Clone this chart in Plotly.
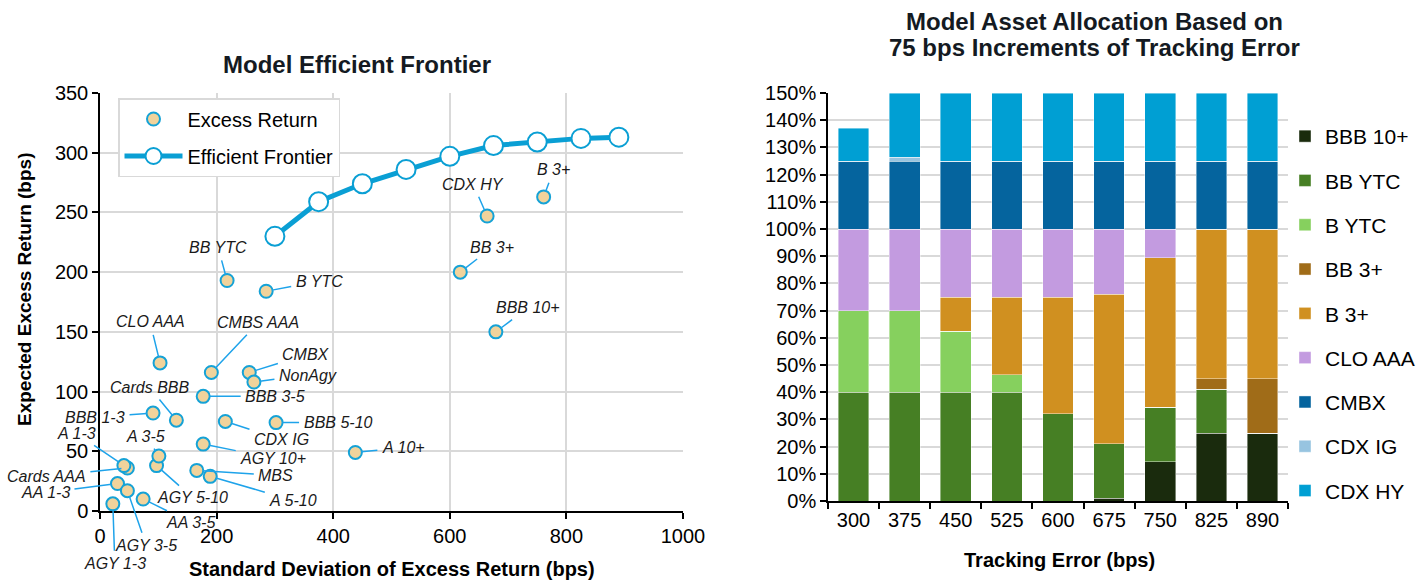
import plotly.graph_objects as go

# ---------------- Data: left chart (scatter + efficient frontier) ----------------
asset_names = ["AGY 1-3", "AA 1-3", "AGY 3-5", "Cards AAA", "A 1-3", "AA 3-5", "AGY 5-10",
               "A 3-5", "BBB 1-3", "Cards BBB", "CLO AAA", "MBS", "A 5-10", "AGY 10+",
               "BBB 3-5", "CMBS AAA", "CDX IG", "CMBX", "NonAgy", "BBB 5-10", "A 10+",
               "BB YTC", "B YTC", "BB 3+", "CDX HY", "B 3+", "BBB 10+"]
std_dev = [22, 30, 47, 47, 41, 74, 97, 101, 91, 131, 103, 166, 189, 177,
           177, 191, 215, 256, 264, 302, 438, 218, 285, 618, 664, 761, 679]
excess_ret = [6, 23, 17, 36, 38, 10, 38, 46, 82, 76, 124, 34, 29, 56,
              96, 116, 75, 116, 108, 74, 49, 193, 184, 200, 247, 263, 150]

frontier_te = [300, 375, 450, 525, 600, 675, 750, 825, 890]
frontier_ret = [230, 259, 274, 286, 297, 306, 309, 312, 313]

# ---------------- Data: right chart (stacked allocation, fractions) ----------------
te_categories = ["300", "375", "450", "525", "600", "675", "750", "825", "890"]
bbb_10 = [0, 0, 0, 0, 0, 0.01, 0.145, 0.25, 0.25]
bb_ytc = [0.40, 0.40, 0.40, 0.40, 0.32, 0.20, 0.20, 0.16, 0]
b_ytc = [0.30, 0.30, 0.225, 0.065, 0, 0, 0, 0, 0]
bb_3 = [0, 0, 0, 0, 0, 0, 0, 0.04, 0.20]
b_3 = [0, 0, 0.125, 0.285, 0.43, 0.55, 0.55, 0.55, 0.55]
clo_aaa = [0.30, 0.30, 0.25, 0.25, 0.25, 0.24, 0.105, 0, 0]
cmbx = [0.25, 0.25, 0.25, 0.25, 0.25, 0.25, 0.25, 0.25, 0.25]
cdx_ig = [0, 0.013, 0, 0, 0, 0, 0, 0, 0]
cdx_hy = [0.12, 0.237, 0.25, 0.25, 0.25, 0.25, 0.25, 0.25, 0.25]

alloc_series = [("BBB 10+", bbb_10, "#1a2b0d"),
                ("BB YTC", bb_ytc, "#467f24"),
                ("B YTC", b_ytc, "#86d05e"),
                ("BB 3+", bb_3, "#a06c18"),
                ("B 3+", b_3, "#d09020"),
                ("CLO AAA", clo_aaa, "#c39be0"),
                ("CMBX", cmbx, "#05649e"),
                ("CDX IG", cdx_ig, "#97c4e0"),
                ("CDX HY", cdx_hy, "#009fd3")]

# label offsets (pixels) for the scatter callouts
label_offsets = {
    "AGY 1-3": (2, 60), "AA 1-3": (-72, 9), "AGY 3-5": (19, 55), "Cards AAA": (-81, 8),
    "A 1-3": (-47, -32), "AA 3-5": (47, 23), "AGY 5-10": (36, 32), "A 3-5": (-13, -20),
    "BBB 1-3": (-58, 4), "Cards BBB": (-27, -33), "CLO AAA": (-10, -41), "MBS": (79, 5),
    "A 5-10": (83, 24), "AGY 10+": (70, 14), "BBB 3-5": (72, 0), "CMBS AAA": (47, -50),
    "CDX IG": (56, 18), "CMBX": (57, -18), "NonAgy": (54, -7), "BBB 5-10": (62, 0),
    "A 10+": (48, -5), "BB YTC": (-9, -33), "B YTC": (53, -10), "BB 3+": (32, -25),
    "CDX HY": (-14, -32), "B 3+": (10, -27), "BBB 10+": (32, -24),
}

FONT = "Liberation Sans, Arial, sans-serif"
W, H = 1427, 580
CYAN = "#0a9fd4"
LEADER = "#1ea3ea"
GRID = "#d9d9d9"

fig = go.Figure()

fig.add_trace(go.Scatter(
    x=std_dev, y=excess_ret, mode="markers", name="Excess Return",
    marker=dict(size=13, color="#f1d39b", line=dict(color="#15a2d6", width=2)),
    xaxis="x", yaxis="y", legend="legend", legendgroup="a"))

fig.add_trace(go.Scatter(
    x=frontier_te, y=frontier_ret, mode="lines+markers", name="Efficient Frontier",
    line=dict(color=CYAN, width=5),
    marker=dict(size=19, color="white", line=dict(color=CYAN, width=2)),
    xaxis="x", yaxis="y", legend="legend", legendgroup="b"))

for name, vals, col in alloc_series:
    fig.add_trace(go.Bar(
        x=te_categories, y=vals, name=name,
        marker=dict(color=col, line=dict(color="rgba(255,255,255,0.7)", width=0.6)),
        xaxis="x2", yaxis="y2", legend="legend2", legendgroup=name))

annotations = []
for name, sx, sy in zip(asset_names, std_dev, excess_ret):
    ax, ay = label_offsets[name]
    annotations.append(dict(
        x=sx, y=sy, xref="x", yref="y", ax=ax, ay=ay, text="<i>" + name + "</i>",
        showarrow=True, arrowhead=0, arrowwidth=1.5, arrowcolor=LEADER,
        standoff=6, startstandoff=3, font=dict(family=FONT, size=16, color="#1a1a1a")))


def px_x(p):
    return p / W


def px_y(p):
    return 1 - p / H


title_font = dict(family=FONT, size=24, color="#141a22")
axis_title_font = dict(family=FONT, size=20, color="#000000")
annotations += [
    dict(x=px_x(357), y=px_y(64), xref="paper", yref="paper", text="<b>Model Efficient Frontier</b>",
         showarrow=False, font=title_font, xanchor="center", yanchor="middle"),
    dict(x=px_x(1094), y=px_y(21), xref="paper", yref="paper", text="<b>Model Asset Allocation Based on</b>",
         showarrow=False, font=title_font, xanchor="center", yanchor="middle"),
    dict(x=px_x(1094), y=px_y(47), xref="paper", yref="paper", text="<b>75 bps Increments of Tracking Error</b>",
         showarrow=False, font=title_font, xanchor="center", yanchor="middle"),
    dict(x=px_x(392), y=px_y(569), xref="paper", yref="paper", text="<b>Standard Deviation of Excess Return (bps)</b>",
         showarrow=False, font=axis_title_font, xanchor="center", yanchor="middle"),
    dict(x=px_x(24), y=px_y(290), xref="paper", yref="paper", text="<b>Expected Excess Return (bps)</b>",
         showarrow=False, font=dict(family=FONT, size=19, color="#000000"), textangle=-90,
         xanchor="center", yanchor="middle"),
    dict(x=px_x(1059), y=px_y(560), xref="paper", yref="paper", text="<b>Tracking Error (bps)</b>",
         showarrow=False, font=axis_title_font, xanchor="center", yanchor="middle"),
]

tick_font = dict(family=FONT, size=20, color="#000000")
axis_common = dict(showline=True, linecolor="#000000", linewidth=1.5, ticks="outside",
                   ticklen=6, tickwidth=1.5, tickcolor="#000000",
                   gridcolor=GRID, gridwidth=1.5, zeroline=False, tickfont=tick_font,
                   automargin=False)

fig.update_layout(
    width=W, height=H, margin=dict(l=0, r=0, t=0, b=0, pad=0, autoexpand=False),
    paper_bgcolor="white", plot_bgcolor="white",
    font=dict(family=FONT, color="#000000"),
    barmode="stack", bargap=0.4,
    xaxis=dict(domain=[px_x(100), px_x(683)], range=[0, 1000], dtick=200, anchor="y",
               showgrid=True, **axis_common),
    yaxis=dict(domain=[px_y(511), px_y(93)], range=[0, 350], dtick=50, anchor="x",
               showgrid=True, **axis_common),
    xaxis2=dict(domain=[px_x(828), px_x(1288)], type="category", anchor="y2", tickson="boundaries",
                showgrid=False, **axis_common),
    yaxis2=dict(domain=[px_y(501), px_y(93)], range=[0, 1.5], dtick=0.1, tickformat=".0%", anchor="x2",
                showgrid=True, **axis_common),
    legend=dict(x=px_x(118), y=px_y(98), xanchor="left", yanchor="top", bgcolor="white",
                bordercolor=GRID, borderwidth=1.5, font=dict(family=FONT, size=20, color="#000000"),
                traceorder="grouped", tracegroupgap=8, itemwidth=58),
    legend2=dict(x=px_x(1285), y=px_y(116), xanchor="left", yanchor="top", bgcolor="rgba(0,0,0,0)",
                 font=dict(family=FONT, size=21, color="#000000"),
                 traceorder="grouped", tracegroupgap=14),
    annotations=annotations,
    showlegend=True,
)

fig.write_html("out.html", config={"displayModeBar": False},
               post_script="document.body.style.margin='0';document.body.style.overflow='hidden';")
